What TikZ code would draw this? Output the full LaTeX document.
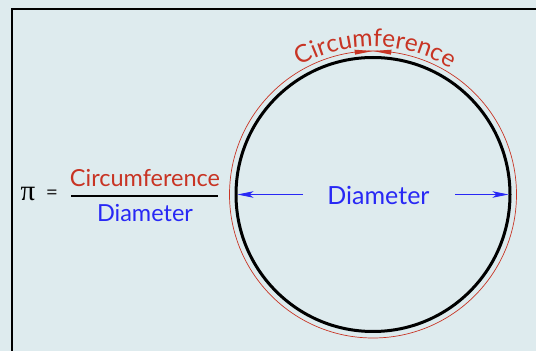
\documentclass[tikz,border=0pt]{standalone}
\usepackage{fontspec}
\setmainfont{Lato}
\newfontfamily\pifont{Liberation Serif}
\usetikzlibrary{arrows.meta,decorations.text}
\definecolor{bgc}{RGB}{222,235,238}
\definecolor{cred}{RGB}{200,52,36}
\definecolor{cblue}{RGB}{40,40,245}
\begin{document}
\begin{tikzpicture}[x=1pt,y=1pt,
  lbl/.style={inner sep=0pt, anchor=base},
  diaarrow/.style={cblue, line width=0.9pt, -{Stealth[length=16pt,width=6.5pt,inset=4pt]}},
  redtip/.style={fill=cred, draw=none}
]
\fill[bgc] (0,0) rectangle (536,351);
\useasboundingbox (0,0) rectangle (536,351);
% frame
\draw[line width=2pt] (12,-5) -- (12,342) -- (545,342);
% circles
\coordinate (c) at (373,156.5);
\draw[cred, line width=0.7pt] (c) circle[radius=143.5];
\draw[line width=3pt] (c) circle[radius=137];
% curved label
\path[decorate, decoration={text along path, text align=center,
  text={|\color{cred}\fontsize{24.5}{28}\selectfont|Circumference}}]
  ([shift={(120:148)}]c) arc[start angle=120, end angle=58, radius=148];
% small red arrow tips on the circumference
\fill[redtip] ([shift={(90:143.5)}]c) -- ([shift={(97.3:141)}]c) -- ([shift={(97.3:146)}]c) -- cycle;
\fill[redtip] ([shift={(90:143.5)}]c) -- ([shift={(82.7:141)}]c) -- ([shift={(82.7:146)}]c) -- cycle;
% diameter
\node[lbl, text=cblue, font=\fontsize{25}{30}\selectfont] (dia) at (378.5,146) {Diameter};
\coordinate (dl) at (303,156.5);
\coordinate (dr) at (455,156.5);
\draw[diaarrow] (dl) -- ([shift={(180:135.5)}]c);
\draw[diaarrow] (dr) -- ([shift={(0:135.5)}]c);
% formula
\node[font=\pifont\fontsize{29}{32}\selectfont, inner sep=0pt, anchor=base] (pi) at (28,150.5) {π};
\node[font=\fontsize{21}{24}\selectfont, text=black!85, inner sep=0pt] (eq) at (52,156) {=};
\node[lbl, text=cred, font=\fontsize{23.5}{28}\selectfont] (fc) at (145,164) {Circumference};
\node[lbl, text=cblue, font=\fontsize{23.5}{28}\selectfont] (fd) at (145,129) {Diameter};
\coordinate (fl) at (71,155);
\coordinate (fr) at (218,155);
\draw[line width=2pt] (fl) -- (fr);
\end{tikzpicture}
\end{document}
